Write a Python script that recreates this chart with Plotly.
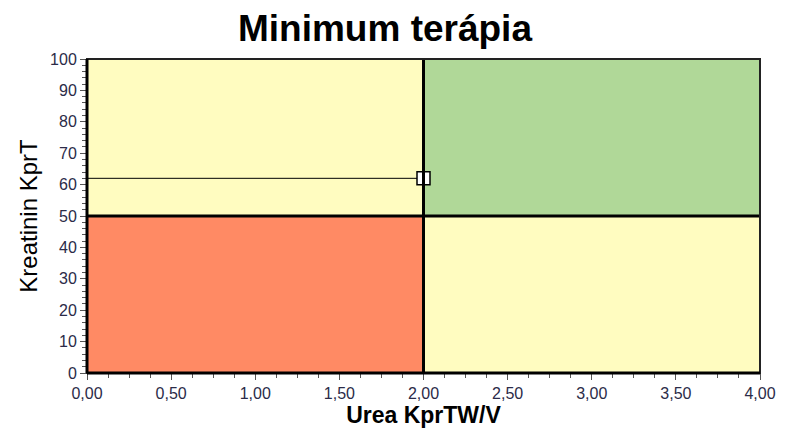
import plotly.graph_objects as go

title = "Minimum terápia"
x_label = "Urea KprTW/V"
y_label = "Kreatinin KprT"

x_range = [0, 4]
y_range = [0, 100]
x_threshold = 2.0
y_threshold = 50

# quadrant zones
zone_x0 = [0, 2, 0, 2]
zone_x1 = [2, 4, 2, 4]
zone_y0 = [0, 50, 50, 0]
zone_y1 = [50, 100, 100, 50]
zone_colors = ["#FF8A64", "#B0D898", "#FFFCC0", "#FFFCC0"]

point_x = [2.0]
point_y = [62]

x_tick_vals = [0, 0.5, 1, 1.5, 2, 2.5, 3, 3.5, 4]
x_tick_text = ["0,00", "0,50", "1,00", "1,50", "2,00", "2,50", "3,00", "3,50", "4,00"]
y_tick_vals = [0, 10, 20, 30, 40, 50, 60, 70, 80, 90, 100]

fig = go.Figure()

shapes = []
for x0, x1, y0, y1, c in zip(zone_x0, zone_x1, zone_y0, zone_y1, zone_colors):
    shapes.append(dict(type="rect", xref="x", yref="y", x0=x0, x1=x1, y0=y0, y1=y1,
                       fillcolor=c, line=dict(width=0), layer="below"))
shapes.append(dict(type="line", xref="x", yref="y", x0=x_threshold, x1=x_threshold,
                   y0=y_range[0], y1=y_range[1], line=dict(color="black", width=3)))
shapes.append(dict(type="line", xref="x", yref="y", x0=x_range[0], x1=x_range[1],
                   y0=y_threshold, y1=y_threshold, line=dict(color="black", width=3)))
shapes.append(dict(type="rect", xref="paper", yref="paper", x0=0, x1=1, y0=0, y1=1,
                   line=dict(color="#222", width=2)))
shapes.append(dict(type="line", xref="paper", yref="paper", x0=0, x1=0, y0=0, y1=1,
                   line=dict(color="black", width=3)))
shapes.append(dict(type="line", xref="paper", yref="paper", x0=0, x1=1, y0=0, y1=0,
                   line=dict(color="black", width=3)))

fig.add_trace(go.Scatter(x=[x_range[0], point_x[0]], y=[point_y[0], point_y[0]], mode="lines",
                         line=dict(color="black", width=1), hoverinfo="skip", showlegend=False))
fig.add_trace(go.Scatter(x=point_x, y=point_y, mode="markers",
                         marker=dict(symbol="square", size=13, color="white",
                                     line=dict(color="black", width=1.5)),
                         showlegend=False))

tickfont = dict(family="Arial, Liberation Sans", size=16, color="#2b2b48")
fig.update_layout(
    width=787, height=428,
    margin=dict(l=79, r=35, t=51, b=63),
    paper_bgcolor="white", plot_bgcolor="white",
    title=dict(text="<b>" + title + "</b>", x=0.479, xanchor="center", y=0.952, yanchor="middle",
               font=dict(family="Arial, Liberation Sans", size=37, color="black")),
    shapes=shapes,
    xaxis=dict(range=x_range, tickvals=x_tick_vals, ticktext=x_tick_text, showgrid=False,
               zeroline=False, ticks="outside", ticklen=6, tickcolor="#555", tickwidth=1,
               minor=dict(dtick=0.125, ticks="outside", ticklen=4, tickcolor="#555"),
               tickfont=tickfont,
               title=dict(text="<b>" + x_label + "</b>", standoff=0,
                          font=dict(family="Arial, Liberation Sans", size=23, color="black"))),
    yaxis=dict(range=y_range, tickvals=y_tick_vals, showgrid=False, zeroline=False,
               ticks="outside", ticklen=6, tickcolor="#555", tickwidth=1,
               minor=dict(dtick=2, ticks="outside", ticklen=4, tickcolor="#555"),
               tickfont=tickfont,
               title=dict(text=y_label, standoff=5,
                          font=dict(family="Arial, Liberation Sans", size=24, color="black"))),
)

fig.write_html("out.html")
